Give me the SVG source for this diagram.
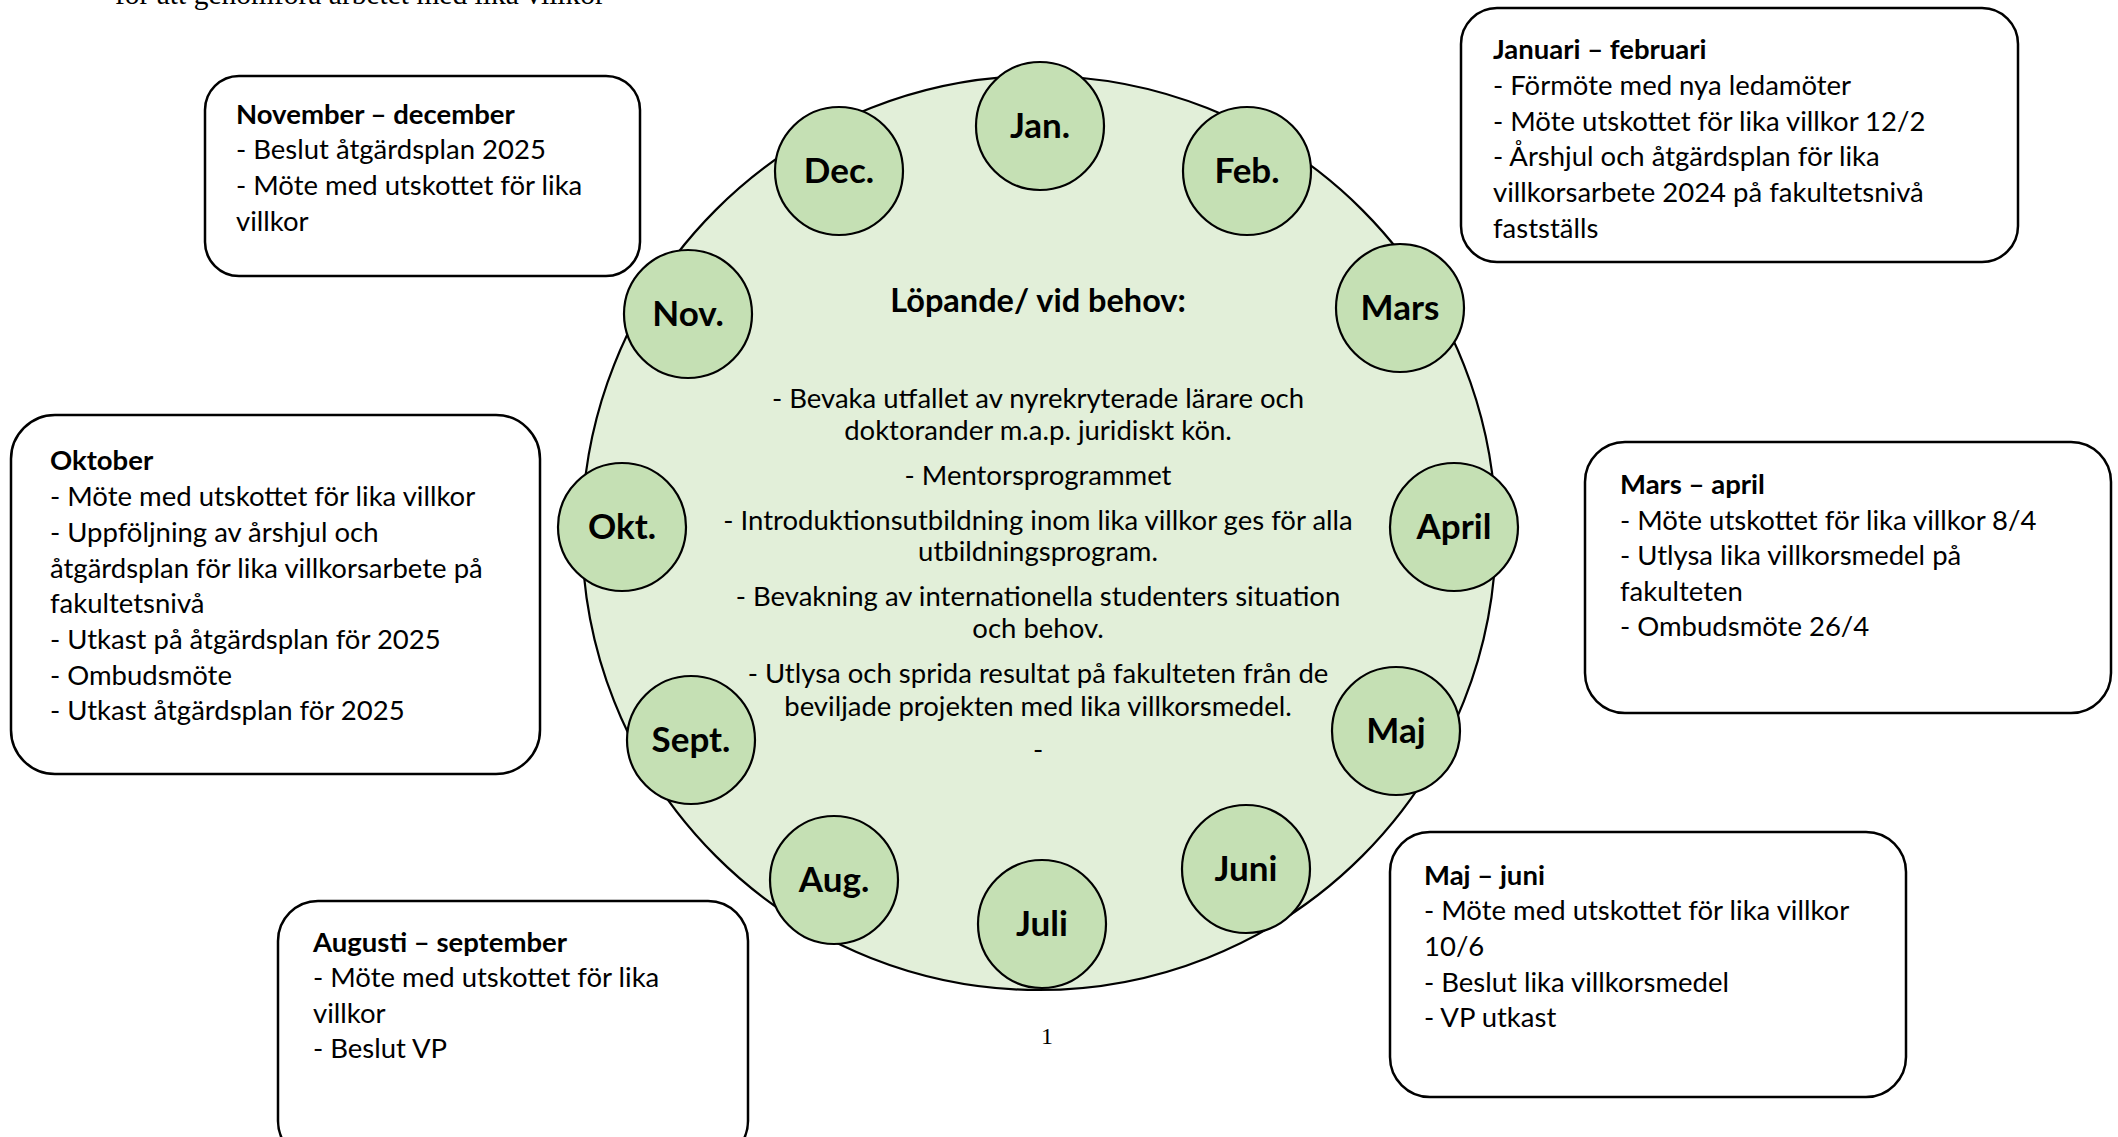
<svg xmlns="http://www.w3.org/2000/svg" width="2118" height="1137" viewBox="0 0 2118 1137">
<style>
.box{fill:#fff;stroke:#000;stroke-width:2.5}
.mon{fill:#C5E0B4;stroke:#000;stroke-width:2.2}
.ml{font-family:Lato,"Liberation Sans",sans-serif;font-weight:bold;font-size:35px;fill:#000;text-anchor:middle}
.t{font-family:Lato,"Liberation Sans",sans-serif;font-size:27.5px;fill:#000}
.h{font-weight:bold}
.c{text-anchor:middle}
.title{font-size:32.5px}
.serif{font-family:"Liberation Serif",serif;fill:#000}
</style>
<rect width="2118" height="1137" fill="#fff"/>
<text class="serif" x="115" y="4" font-size="29.5">för att genomföra arbetet med lika villkor</text>
<g id="wheel">
<circle cx="1039" cy="533" r="457" fill="#E2EFD9" stroke="#000" stroke-width="2.2"/>
<text class="t h c title" x="1038" y="312">Löpande/ vid behov:</text>
<text class="t c" x="1038" y="408">- Bevaka utfallet av nyrekryterade lärare och</text>
<text class="t c" x="1038" y="440">doktorander m.a.p. juridiskt kön.</text>
<text class="t c" x="1038" y="485">- Mentorsprogrammet</text>
<text class="t c" x="1038" y="530">- Introduktionsutbildning inom lika villkor ges för alla</text>
<text class="t c" x="1038" y="561">utbildningsprogram.</text>
<text class="t c" x="1038" y="606">- Bevakning av internationella studenters situation</text>
<text class="t c" x="1038" y="638">och behov.</text>
<text class="t c" x="1038" y="683">- Utlysa och sprida resultat på fakulteten från de</text>
<text class="t c" x="1038" y="716">beviljade projekten med lika villkorsmedel.</text>
<text class="t c" x="1038" y="759">-</text>
</g>
<g id="connectors"></g>
<g id="m-jan"><circle class="mon" cx="1040" cy="126" r="64"/><text class="ml" x="1040" y="138">Jan.</text></g>
<g id="m-feb"><circle class="mon" cx="1247" cy="171" r="64"/><text class="ml" x="1247" y="183">Feb.</text></g>
<g id="m-mar"><circle class="mon" cx="1400" cy="308" r="64"/><text class="ml" x="1400" y="320">Mars</text></g>
<g id="m-apr"><circle class="mon" cx="1454" cy="527" r="64"/><text class="ml" x="1454" y="539">April</text></g>
<g id="m-maj"><circle class="mon" cx="1396" cy="731" r="64"/><text class="ml" x="1396" y="743">Maj</text></g>
<g id="m-jun"><circle class="mon" cx="1246" cy="869" r="64"/><text class="ml" x="1246" y="881">Juni</text></g>
<g id="m-jul"><circle class="mon" cx="1042" cy="924" r="64"/><text class="ml" x="1042" y="936">Juli</text></g>
<g id="m-aug"><circle class="mon" cx="834" cy="880" r="64"/><text class="ml" x="834" y="892">Aug.</text></g>
<g id="m-sep"><circle class="mon" cx="691" cy="740" r="64"/><text class="ml" x="691" y="752">Sept.</text></g>
<g id="m-okt"><circle class="mon" cx="622" cy="527" r="64"/><text class="ml" x="622" y="539">Okt.</text></g>
<g id="m-nov"><circle class="mon" cx="688" cy="314" r="64"/><text class="ml" x="688" y="326">Nov.</text></g>
<g id="m-dec"><circle class="mon" cx="839" cy="171" r="64"/><text class="ml" x="839" y="183">Dec.</text></g>
<g id="box-novdec">
<rect class="box" x="205" y="76" width="435" height="200" rx="34"/>
<text class="t h" x="236" y="124">November – december</text>
<text class="t" x="236" y="159">- Beslut åtgärdsplan 2025</text>
<text class="t" x="236" y="195">- Möte med utskottet för lika</text>
<text class="t" x="236" y="231">villkor</text>
</g>
<g id="box-janfeb">
<rect class="box" x="1461" y="8" width="557" height="254" rx="36"/>
<text class="t h" x="1493" y="59">Januari – februari</text>
<text class="t" x="1493" y="95">- Förmöte med nya ledamöter</text>
<text class="t" x="1493" y="131">- Möte utskottet för lika villkor 12/2</text>
<text class="t" x="1493" y="166">- Årshjul och åtgärdsplan för lika</text>
<text class="t" x="1493" y="202">villkorsarbete 2024 på fakultetsnivå</text>
<text class="t" x="1493" y="238">fastställs</text>
</g>
<g id="box-okt">
<rect class="box" x="11" y="415" width="529" height="359" rx="44"/>
<text class="t h" x="50" y="470">Oktober</text>
<text class="t" x="50" y="506">- Möte med utskottet för lika villkor</text>
<text class="t" x="50" y="542">- Uppföljning av årshjul och</text>
<text class="t" x="50" y="578">åtgärdsplan för lika villkorsarbete på</text>
<text class="t" x="50" y="613">fakultetsnivå</text>
<text class="t" x="50" y="649">- Utkast på åtgärdsplan för 2025</text>
<text class="t" x="50" y="685">- Ombudsmöte</text>
<text class="t" x="50" y="720">- Utkast åtgärdsplan för 2025</text>
</g>
<g id="box-marapr">
<rect class="box" x="1585" y="442" width="526" height="271" rx="40"/>
<text class="t h" x="1620" y="494">Mars – april</text>
<text class="t" x="1620" y="530">- Möte utskottet för lika villkor 8/4</text>
<text class="t" x="1620" y="565">- Utlysa lika villkorsmedel på</text>
<text class="t" x="1620" y="601">fakulteten</text>
<text class="t" x="1620" y="636">- Ombudsmöte 26/4</text>
</g>
<g id="box-augsep">
<rect class="box" x="278" y="901" width="470" height="260" rx="40"/>
<text class="t h" x="313" y="952">Augusti – september</text>
<text class="t" x="313" y="987">- Möte med utskottet för lika</text>
<text class="t" x="313" y="1023">villkor</text>
<text class="t" x="313" y="1058">- Beslut VP</text>
</g>
<g id="box-majjun">
<rect class="box" x="1390" y="832" width="516" height="265" rx="40"/>
<text class="t h" x="1424" y="885">Maj – juni</text>
<text class="t" x="1424" y="920">- Möte med utskottet för lika villkor</text>
<text class="t" x="1424" y="956">10/6</text>
<text class="t" x="1424" y="992">- Beslut lika villkorsmedel</text>
<text class="t" x="1424" y="1027">- VP utkast</text>
</g>
<text class="serif" x="1047" y="1044" font-size="24" text-anchor="middle">1</text>
</svg>
